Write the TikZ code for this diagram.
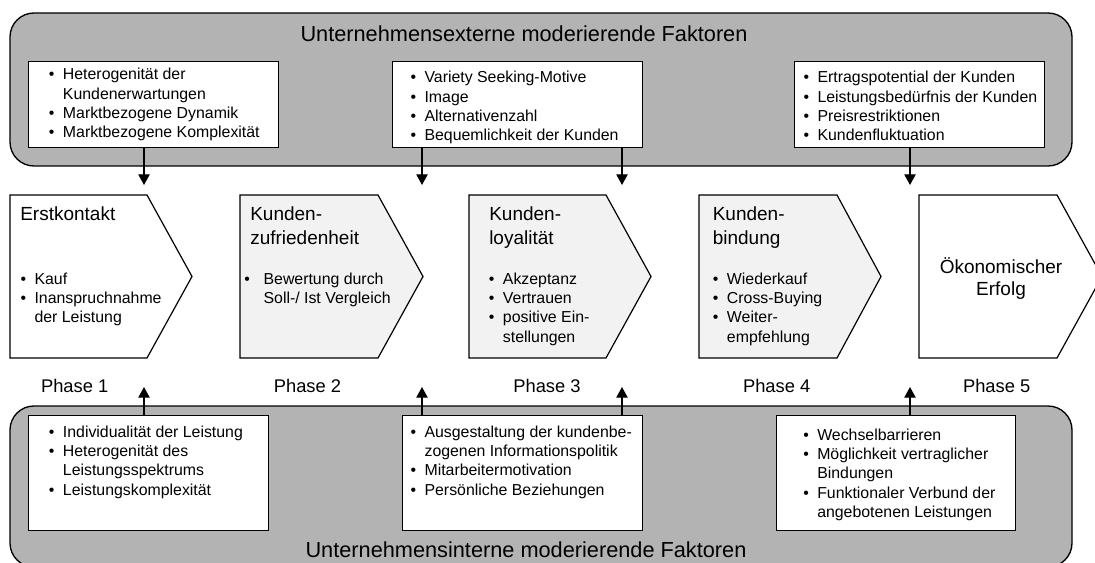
\documentclass[tikz,border=0pt]{standalone}
\usepackage{fontspec}
\setmainfont{Liberation Sans}
\usetikzlibrary{arrows.meta}
\definecolor{grpgrey}{RGB}{179,179,179}
\definecolor{chevgrey}{RGB}{242,242,242}
\newcommand\bi[1][10.5pt]{\makebox[#1][l]{\textbullet}}
\begin{document}
\begin{tikzpicture}[x=0.75pt,y=-0.75pt,
  grp/.style={draw=black, line width=1pt, fill=grpgrey, rounded corners=18pt},
  fbox/.style={draw=black, line width=1pt, fill=white, inner sep=0pt, anchor=north west},
  chev/.style={draw=black, line width=0.9pt},
  arr/.style={draw=black, line width=1pt, -{Triangle[width=8.5pt,length=8pt]}},
  btxt/.style={inner sep=0pt, anchor=base west, font=\fontsize{11.9}{14.5}\selectfont},
  ctitle/.style={inner sep=0pt, anchor=base west, font=\fontsize{14.25}{18}\selectfont},
  gtitle/.style={inner sep=0pt, anchor=base, font=\fontsize{16.3}{19}\selectfont},
  phase/.style={inner sep=0pt, anchor=base, font=\fontsize{13.75}{16}\selectfont}]
\clip (0,0) rectangle (1095,563);
\fill[white] (0,0) rectangle (1095,563);

% group panels
\path[grp] (10,13) rectangle (1072,166);
\path[grp] (10,406) rectangle (1072,567);
\node[gtitle] (gext) at (524,42) {Unternehmensexterne moderierende Faktoren};
\node[gtitle] (gint) at (526,557) {Unternehmensinterne moderierende Faktoren};

% factor boxes
\node[fbox, minimum width=187.5pt, minimum height=64.5pt] (e1) at (28,61) {};
\node[fbox, minimum width=187.5pt, minimum height=64.5pt] (e2) at (392,61) {};
\node[fbox, minimum width=187.5pt, minimum height=64.5pt] (e3) at (794,61) {};
\node[fbox, minimum width=180pt, minimum height=86.25pt] (i1) at (28,415) {};
\node[fbox, minimum width=180pt, minimum height=86.25pt] (i2) at (402,415) {};
\node[fbox, minimum width=179.25pt, minimum height=86.25pt] (i3) at (776,415) {};

\node[btxt] (e1t) at (48.7,80) {\begin{tabular}[t]{@{}l@{}l@{}}
\bi & Heterogenität der\\ & Kundenerwartungen\\ \bi & Marktbezogene Dynamik\\ \bi & Marktbezogene Komplexität\end{tabular}};
\node[btxt] (e2t) at (410.3,83) {\begin{tabular}[t]{@{}l@{}l@{}}
\bi & Variety Seeking-Motive\\ \bi & Image\\ \bi & Alternativenzahl\\ \bi & Bequemlichkeit der Kunden\end{tabular}};
\node[btxt] (e3t) at (803.3,83) {\begin{tabular}[t]{@{}l@{}l@{}}
\bi & Ertragspotential der Kunden\\ \bi & Leistungsbedürfnis der Kunden\\ \bi & Preisrestriktionen\\ \bi & Kundenfluktuation\end{tabular}};
\node[btxt] (i1t) at (48.7,437) {\begin{tabular}[t]{@{}l@{}l@{}}
\bi & Individualität der Leistung\\ \bi & Heterogenität des\\ & Leistungsspektrums\\ \bi & Leistungskomplexität\end{tabular}};
\node[btxt] (i2t) at (410.3,437) {\begin{tabular}[t]{@{}l@{}l@{}}
\bi & Ausgestaltung der kundenbe-\\ & zogenen Informationspolitik\\ \bi & Mitarbeitermotivation\\ \bi & Persönliche Beziehungen\end{tabular}};
\node[btxt] (i3t) at (803,440) {\begin{tabular}[t]{@{}l@{}l@{}}
\bi & Wechselbarrieren\\ \bi & Möglichkeit vertraglicher\\ & Bindungen\\ \bi & Funktionaler Verbund der\\ & angebotenen Leistungen\end{tabular}};

% phase chevrons
\filldraw[chev, fill=white] (10,195) -- ++(137,0) -- ++(45,81.5) -- ++(-45,81.5) -- ++(-137,0) -- cycle;
\filldraw[chev, fill=chevgrey] (240,195) -- ++(138,0) -- ++(45,81.5) -- ++(-45,81.5) -- ++(-138,0) -- cycle;
\filldraw[chev, fill=chevgrey] (469,195) -- ++(137,0) -- ++(45,81.5) -- ++(-45,81.5) -- ++(-137,0) -- cycle;
\filldraw[chev, fill=chevgrey] (699,195) -- ++(138,0) -- ++(44,81.5) -- ++(-44,81.5) -- ++(-138,0) -- cycle;
\filldraw[chev, fill=white] (919,195) -- ++(138,0) -- ++(45,81.5) -- ++(-45,81.5) -- ++(-138,0) -- cycle;

\node[ctitle] (p1h) at (20,220) {Erstkontakt};
\node[ctitle] (p2h) at (250,220) {\begin{tabular}[t]{@{}l@{}}Kunden-\\ zufriedenheit\end{tabular}};
\node[ctitle] (p3h) at (489,220) {\begin{tabular}[t]{@{}l@{}}Kunden-\\ loyalität\end{tabular}};
\node[ctitle] (p4h) at (712.5,220) {\begin{tabular}[t]{@{}l@{}}Kunden-\\ bindung\end{tabular}};
\node[inner sep=0pt, anchor=base, font=\fontsize{14.25}{16.5}\selectfont] (p5h) at (1001,273.3)
  {\begin{tabular}[t]{@{}c@{}}Ökonomischer\\ Erfolg\end{tabular}};

\node[btxt] (p1t) at (20.3,284.3) {\begin{tabular}[t]{@{}l@{}l@{}}
\bi & Kauf\\ \bi & Inanspruchnahme\\ & der Leistung\end{tabular}};
\node[btxt] (p2t) at (244,284.3) {\begin{tabular}[t]{@{}l@{}l@{}}
\bi[14.5pt] & Bewertung durch\\ & Soll-/ Ist Vergleich\end{tabular}};
\node[btxt] (p3t) at (488.7,284.3) {\begin{tabular}[t]{@{}l@{}l@{}}
\bi & Akzeptanz\\ \bi & Vertrauen\\ \bi & positive Ein-\\ & stellungen\end{tabular}};
\node[btxt] (p4t) at (712.7,284.3) {\begin{tabular}[t]{@{}l@{}l@{}}
\bi & Wiederkauf\\ \bi & Cross-Buying\\ \bi & Weiter-\\ & empfehlung\end{tabular}};

\node[phase] (ph1) at (74.7,392.3) {Phase 1};
\node[phase] (ph2) at (307.5,392.3) {Phase 2};
\node[phase] (ph3) at (547,392.3) {Phase 3};
\node[phase] (ph4) at (776.7,392.3) {Phase 4};
\node[phase] (ph5) at (996.7,392.3) {Phase 5};

% arrow targets
\coordinate (ta1) at (144,185);
\coordinate (ta2) at (422,185);
\coordinate (ta3) at (622,185);
\coordinate (ta4) at (910,185);
\coordinate (ba1) at (144,387);
\coordinate (ba2) at (422,387);
\coordinate (ba3) at (622,387);
\coordinate (ba4) at (910,387);

\draw[arr] (e1.south -| ta1) -- (ta1);
\draw[arr] (e2.south -| ta2) -- (ta2);
\draw[arr] (e2.south -| ta3) -- (ta3);
\draw[arr] (e3.south -| ta4) -- (ta4);
\draw[arr] (i1.north -| ba1) -- (ba1);
\draw[arr] (i2.north -| ba2) -- (ba2);
\draw[arr] (i2.north -| ba3) -- (ba3);
\draw[arr] (i3.north -| ba4) -- (ba4);
\end{tikzpicture}
\end{document}
